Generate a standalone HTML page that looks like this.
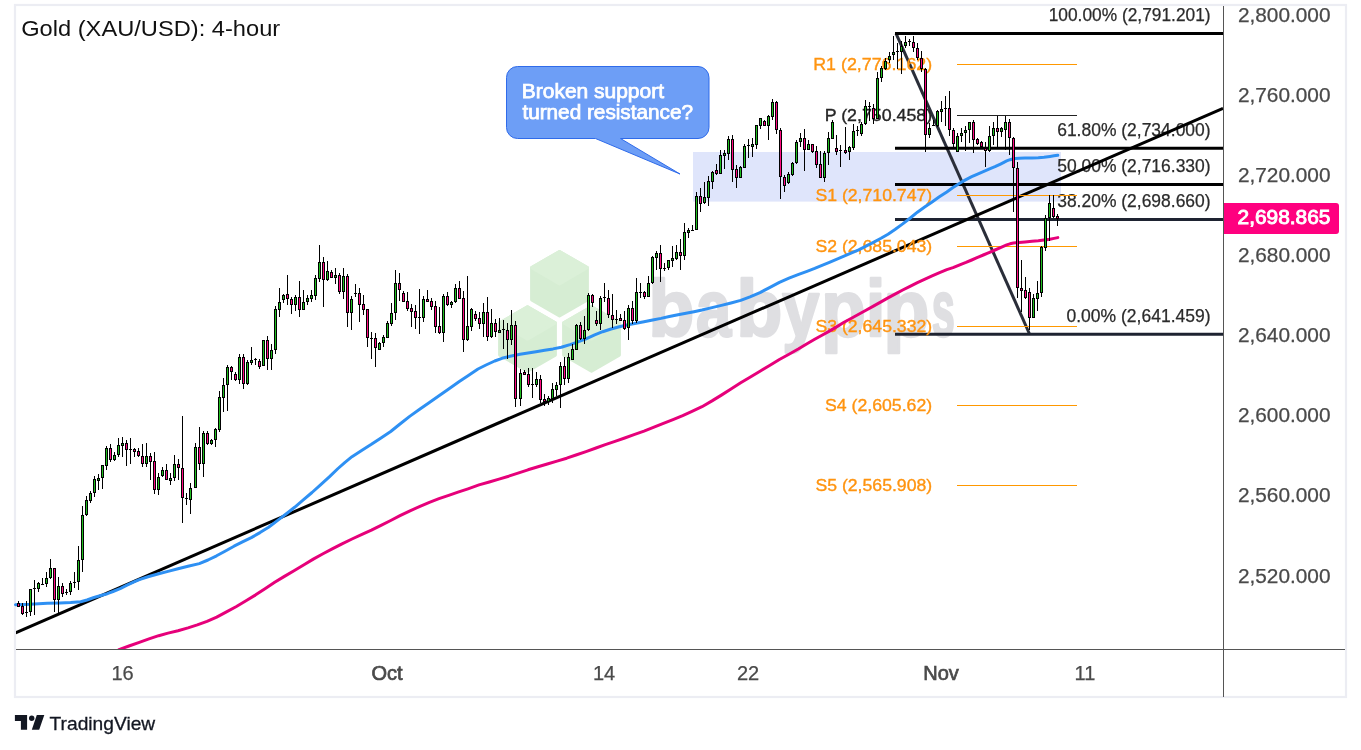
<!DOCTYPE html>
<html><head><meta charset="utf-8"><title>Gold (XAU/USD): 4-hour</title>
<style>html,body{margin:0;padding:0;background:#fff;}body{width:1361px;height:750px;overflow:hidden;font-family:"Liberation Sans",sans-serif;}</style>
</head><body>
<svg width="1361" height="750" viewBox="0 0 1361 750" style="display:block;will-change:transform" font-family="Liberation Sans, sans-serif">
<rect x="0" y="0" width="1361" height="750" fill="#ffffff"/>
<defs><clipPath id="plot"><rect x="16" y="6" width="1207" height="643"/></clipPath></defs>
<rect x="15" y="5" width="1331" height="692" fill="#ffffff" stroke="#ecedf3" stroke-width="2.2"/>
<g id="wm">
<polygon points="559.5,251.6 587.3,267.7 587.3,299.8 559.5,315.9 531.7,299.8 531.7,267.7" fill="#d6edd3" stroke="#d6edd3" stroke-width="3.2" stroke-linejoin="round"/><polygon points="559.5,251.6 587.3,267.7 559.5,283.8 531.7,267.7" fill="#dbf0d8" stroke="#dbf0d8" stroke-width="3.2" stroke-linejoin="round"/>
<polygon points="527.5,306.9 555.3,322.9 555.3,355.1 527.5,371.1 499.7,355.1 499.7,322.9" fill="#d6edd3" stroke="#d6edd3" stroke-width="3.2" stroke-linejoin="round"/><polygon points="527.5,306.9 555.3,322.9 527.5,339.0 499.7,322.9" fill="#dbf0d8" stroke="#dbf0d8" stroke-width="3.2" stroke-linejoin="round"/>
<polygon points="591.5,306.9 619.3,322.9 619.3,355.1 591.5,371.1 563.7,355.1 563.7,322.9" fill="#d6edd3" stroke="#d6edd3" stroke-width="3.2" stroke-linejoin="round"/><polygon points="591.5,306.9 619.3,322.9 591.5,339.0 563.7,322.9" fill="#dbf0d8" stroke="#dbf0d8" stroke-width="3.2" stroke-linejoin="round"/>
<text transform="translate(648.62,336.2) scale(0.9366,1)" font-size="80" font-weight="bold" fill="#dfdfe2" stroke="#dfdfe2" stroke-width="2.6" stroke-linejoin="round">b</text>
<text transform="translate(696.12,336.2) scale(0.7907,1)" font-size="80" font-weight="bold" fill="#dfdfe2" stroke="#dfdfe2" stroke-width="2.6" stroke-linejoin="round">a</text>
<text transform="translate(736.62,336.2) scale(0.9366,1)" font-size="80" font-weight="bold" fill="#dfdfe2" stroke="#dfdfe2" stroke-width="2.6" stroke-linejoin="round">b</text>
<text transform="translate(782.30,336.2) scale(0.8311,1)" font-size="80" font-weight="bold" fill="#dfdfe2" stroke="#dfdfe2" stroke-width="2.6" stroke-linejoin="round">y</text>
<text transform="translate(821.35,336.2) scale(0.9098,1)" font-size="80" font-weight="bold" fill="#dfdfe2" stroke="#dfdfe2" stroke-width="2.6" stroke-linejoin="round">p</text>
<text transform="translate(865.97,336.2) scale(0.8667,1)" font-size="80" font-weight="bold" fill="#dfdfe2" stroke="#dfdfe2" stroke-width="2.6" stroke-linejoin="round">i</text>
<text transform="translate(883.62,336.2) scale(0.9366,1)" font-size="80" font-weight="bold" fill="#dfdfe2" stroke="#dfdfe2" stroke-width="2.6" stroke-linejoin="round">p</text>
<text transform="translate(931.86,336.2) scale(0.5200,1)" font-size="80" font-weight="bold" fill="#dfdfe2" stroke="#dfdfe2" stroke-width="2.6" stroke-linejoin="round">s</text>
</g>
<rect x="693" y="152" width="368" height="49.6" fill="#dfe5fb"/>
<line x1="896" y1="33.4" x2="1029.3" y2="333.5" stroke="#2a2e39" stroke-width="3"/>
<line x1="895" y1="33.4" x2="1223" y2="33.4" stroke="#000" stroke-width="3"/>
<text x="1048.7" y="21.1" font-size="17.7" fill="#2b2b2b" stroke="#2b2b2b" stroke-width="0.25" textLength="161.9" lengthAdjust="spacingAndGlyphs">100.00% (2,791.201)</text>
<line x1="895" y1="148.2" x2="1223" y2="148.2" stroke="#000" stroke-width="3"/>
<text x="1057.2" y="135.9" font-size="17.7" fill="#2b2b2b" stroke="#2b2b2b" stroke-width="0.25" textLength="153.4" lengthAdjust="spacingAndGlyphs">61.80% (2,734.000)</text>
<line x1="895" y1="184.4" x2="1223" y2="184.4" stroke="#000" stroke-width="3"/>
<text x="1057.2" y="172.1" font-size="17.7" fill="#2b2b2b" stroke="#2b2b2b" stroke-width="0.25" textLength="153.4" lengthAdjust="spacingAndGlyphs">50.00% (2,716.330)</text>
<line x1="895" y1="219.4" x2="1223" y2="219.4" stroke="#1e2331" stroke-width="3"/>
<text x="1057.2" y="207.1" font-size="17.7" fill="#2b2b2b" stroke="#2b2b2b" stroke-width="0.25" textLength="153.4" lengthAdjust="spacingAndGlyphs">38.20% (2,698.660)</text>
<line x1="895" y1="334.2" x2="1223" y2="334.2" stroke="#1e2331" stroke-width="3"/>
<text x="1066.5" y="321.9" font-size="17.7" fill="#2b2b2b" stroke="#2b2b2b" stroke-width="0.25" textLength="144.1" lengthAdjust="spacingAndGlyphs">0.00% (2,641.459)</text>
<line x1="15.5" y1="632.8" x2="1223" y2="108.3" stroke="#000" stroke-width="3" clip-path="url(#plot)"/>
<line x1="957" y1="64.5" x2="1077" y2="64.5" stroke="#ff9800" stroke-width="1.2"/>
<text x="813.2" y="70.2" font-size="16.9" fill="#ff9410" textLength="119.0" lengthAdjust="spacingAndGlyphs" stroke="#ff9410" stroke-width="0.35">R1 (2,776.162)</text>
<line x1="957" y1="115.5" x2="1077" y2="115.5" stroke="#222" stroke-width="1.2"/>
<text x="824.7" y="121.1" font-size="16.9" fill="#262626" textLength="107.5" lengthAdjust="spacingAndGlyphs" stroke="#262626" stroke-width="0.35">P (2,750.458)</text>
<line x1="957" y1="195.5" x2="1077" y2="195.5" stroke="#ff9800" stroke-width="1.2"/>
<text x="815.4" y="201.1" font-size="16.9" fill="#ff9410" textLength="116.8" lengthAdjust="spacingAndGlyphs" stroke="#ff9410" stroke-width="0.35">S1 (2,710.747)</text>
<line x1="957" y1="246.5" x2="1077" y2="246.5" stroke="#ff9800" stroke-width="1.2"/>
<text x="815.4" y="252.1" font-size="16.9" fill="#ff9410" textLength="116.8" lengthAdjust="spacingAndGlyphs" stroke="#ff9410" stroke-width="0.35">S2 (2,685.043)</text>
<line x1="957" y1="326.5" x2="1077" y2="326.5" stroke="#ff9800" stroke-width="1.2"/>
<text x="815.4" y="332.1" font-size="16.9" fill="#ff9410" textLength="116.8" lengthAdjust="spacingAndGlyphs" stroke="#ff9410" stroke-width="0.35">S3 (2,645.332)</text>
<line x1="957" y1="405.5" x2="1077" y2="405.5" stroke="#ff9800" stroke-width="1.2"/>
<text x="825" y="411.1" font-size="16.9" fill="#ff9410" textLength="107.2" lengthAdjust="spacingAndGlyphs" stroke="#ff9410" stroke-width="0.35">S4 (2,605.62)</text>
<line x1="957" y1="485.5" x2="1077" y2="485.5" stroke="#ff9800" stroke-width="1.2"/>
<text x="815.4" y="491.1" font-size="16.9" fill="#ff9410" textLength="116.8" lengthAdjust="spacingAndGlyphs" stroke="#ff9410" stroke-width="0.35">S5 (2,565.908)</text>
<path d="M15.5,604.7 L30.0,604.3 L47.3,603.2 L60.0,603.0 L70.7,602.6 L80.7,601.7 L87.0,600.0 L94.0,597.5 L100.0,595.8 L107.3,593.7 L113.0,591.5 L120.7,588.3 L127.0,585.2 L134.0,581.9 L139.3,579.6 L148.0,576.8 L158.7,573.8 L168.0,571.4 L178.0,568.8 L188.0,566.3 L199.3,563.6 L208.0,560.0 L216.6,555.8 L225.0,551.2 L234.0,546.2 L242.5,541.9 L251.3,537.6 L260.0,532.6 L268.6,527.2 L279.0,519.4 L287.0,513.2 L294.6,507.3 L303.0,500.2 L312.0,492.5 L320.5,484.8 L329.3,476.9 L338.0,468.5 L345.0,462.3 L352.0,456.7 L362.0,450.2 L371.4,444.3 L381.0,437.9 L390.7,431.5 L400.0,424.0 L410.0,416.1 L420.0,409.0 L429.4,402.5 L439.0,395.7 L448.7,389.0 L459.3,381.5 L468.0,375.8 L478.0,369.0 L486.0,365.0 L494.7,361.0 L502.0,358.3 L511.3,356.0 L520.0,354.3 L528.0,353.0 L536.0,351.8 L544.7,350.3 L553.0,348.9 L561.3,347.2 L570.0,344.6 L578.0,341.8 L586.0,338.8 L594.7,334.9 L602.7,331.7 L611.0,329.0 L619.3,326.7 L628.0,324.8 L636.0,323.3 L644.0,321.8 L652.7,320.0 L661.0,318.4 L669.3,316.5 L678.0,314.8 L686.0,313.3 L694.0,311.7 L702.0,310.0 L712.0,307.6 L721.4,305.4 L731.0,303.0 L740.7,300.4 L750.0,296.8 L760.0,292.6 L770.0,287.4 L779.4,282.4 L789.0,278.2 L798.7,274.3 L807.0,271.3 L814.7,268.4 L822.0,265.4 L829.4,262.3 L837.0,259.2 L844.0,256.2 L851.0,253.1 L858.7,249.8 L866.0,246.2 L873.4,242.4 L881.0,238.3 L888.0,234.2 L895.0,229.5 L902.7,223.9 L910.0,218.2 L917.4,212.2 L925.0,206.8 L932.1,201.9 L939.0,197.0 L946.8,191.9 L953.0,187.6 L961.0,182.4 L966.0,179.6 L971.7,176.7 L977.0,174.3 L983.3,171.7 L989.0,169.2 L995.0,166.7 L1001.0,163.8 L1006.7,160.9 L1010.0,159.7 L1013.5,158.7 L1019.0,158.2 L1025.0,158.0 L1032.0,158.0 L1038.3,157.8 L1044.0,157.2 L1050.0,156.4 L1054.0,155.8 L1057.8,155.3" fill="none" stroke="#2e90f3" stroke-width="3" stroke-linejoin="round" stroke-linecap="round"/>
<path d="M119.0,649.6 L129.0,646.0 L139.3,642.3 L149.0,638.9 L158.7,635.7 L168.0,633.1 L178.0,630.7 L188.0,627.9 L197.3,624.9 L207.0,621.3 L216.7,617.1 L226.0,612.2 L236.0,606.7 L246.0,600.8 L255.3,595.1 L265.0,588.7 L274.7,582.3 L284.0,576.6 L294.0,570.7 L304.0,564.7 L313.3,559.1 L323.0,553.8 L332.7,548.7 L342.0,543.8 L352.0,539.0 L362.0,534.4 L371.4,530.1 L381.0,525.4 L390.7,520.5 L400.0,515.7 L410.0,510.8 L420.0,506.3 L429.4,502.3 L439.0,498.7 L448.7,495.3 L458.0,492.1 L468.0,488.8 L479.0,484.9 L489.3,482.0 L499.0,479.1 L508.7,476.2 L518.0,473.1 L528.0,469.8 L538.0,466.8 L547.3,464.0 L557.0,461.1 L566.7,458.2 L576.0,455.0 L586.0,451.6 L596.0,448.0 L605.3,444.6 L615.0,441.3 L624.7,438.0 L634.0,434.7 L644.0,431.1 L654.0,427.2 L663.4,423.4 L673.0,419.6 L682.7,415.6 L692.0,411.4 L702.0,406.7 L712.0,400.9 L721.4,395.1 L731.0,389.0 L740.7,382.8 L750.0,377.2 L760.0,371.2 L770.0,365.2 L779.4,359.5 L789.0,354.3 L798.7,348.8 L807.0,343.7 L814.7,339.3 L822.0,335.2 L829.4,331.1 L837.0,326.6 L844.0,322.3 L851.0,318.5 L858.7,314.3 L866.0,310.2 L873.4,306.1 L881.0,301.9 L888.0,297.9 L895.0,294.1 L902.7,290.0 L910.0,286.3 L917.4,282.6 L925.0,279.1 L932.1,275.9 L939.0,272.8 L946.8,269.6 L953.0,267.6 L961.0,264.3 L966.0,262.4 L971.7,260.0 L977.0,257.7 L983.3,255.0 L989.0,252.6 L995.0,250.0 L1001.0,247.3 L1006.7,244.9 L1010.0,243.8 L1013.5,243.0 L1019.0,242.4 L1025.0,241.9 L1032.0,241.3 L1038.3,240.7 L1044.0,240.0 L1050.0,239.2 L1054.0,238.4 L1057.8,237.6" fill="none" stroke="#e6007a" stroke-width="3" stroke-linejoin="round" stroke-linecap="round" clip-path="url(#plot)"/>
<g id="candles" shape-rendering="crispEdges">
<rect x="18" y="601" width="1" height="6" fill="#000"/>
<rect x="17" y="603" width="3" height="4" fill="#000"/>
<rect x="18" y="604" width="1" height="2" fill="#ff0a82"/>
<rect x="22" y="603" width="1" height="12" fill="#000"/>
<rect x="21" y="606" width="3" height="8" fill="#000"/>
<rect x="22" y="607" width="1" height="6" fill="#ff0a82"/>
<rect x="26" y="601" width="1" height="16" fill="#000"/>
<rect x="25" y="612" width="3" height="1" fill="#000"/>
<rect x="30" y="589" width="1" height="27" fill="#000"/>
<rect x="29" y="589" width="3" height="23" fill="#000"/>
<rect x="30" y="590" width="1" height="21" fill="#1fbe1f"/>
<rect x="34" y="580" width="1" height="35" fill="#000"/>
<rect x="33" y="588" width="3" height="1" fill="#000"/>
<rect x="38" y="582" width="1" height="10" fill="#000"/>
<rect x="37" y="583" width="3" height="6" fill="#000"/>
<rect x="38" y="584" width="1" height="4" fill="#1fbe1f"/>
<rect x="42" y="578" width="1" height="6" fill="#000"/>
<rect x="41" y="584" width="3" height="1" fill="#000"/>
<rect x="46" y="572" width="1" height="15" fill="#000"/>
<rect x="45" y="578" width="3" height="6" fill="#000"/>
<rect x="46" y="579" width="1" height="4" fill="#1fbe1f"/>
<rect x="50" y="559" width="1" height="20" fill="#000"/>
<rect x="49" y="568" width="3" height="10" fill="#000"/>
<rect x="50" y="569" width="1" height="8" fill="#1fbe1f"/>
<rect x="54" y="568" width="1" height="44" fill="#000"/>
<rect x="53" y="568" width="3" height="32" fill="#000"/>
<rect x="54" y="569" width="1" height="30" fill="#ff0a82"/>
<rect x="58" y="577" width="1" height="36" fill="#000"/>
<rect x="57" y="586" width="3" height="14" fill="#000"/>
<rect x="58" y="587" width="1" height="12" fill="#1fbe1f"/>
<rect x="62" y="583" width="1" height="14" fill="#000"/>
<rect x="61" y="586" width="3" height="8" fill="#000"/>
<rect x="62" y="587" width="1" height="6" fill="#ff0a82"/>
<rect x="66" y="589" width="1" height="6" fill="#000"/>
<rect x="65" y="592" width="3" height="1" fill="#000"/>
<rect x="70" y="581" width="1" height="14" fill="#000"/>
<rect x="69" y="583" width="3" height="9" fill="#000"/>
<rect x="70" y="584" width="1" height="7" fill="#1fbe1f"/>
<rect x="74" y="572" width="1" height="16" fill="#000"/>
<rect x="73" y="582" width="3" height="1" fill="#000"/>
<rect x="78" y="546" width="1" height="44" fill="#000"/>
<rect x="77" y="560" width="3" height="22" fill="#000"/>
<rect x="78" y="561" width="1" height="20" fill="#1fbe1f"/>
<rect x="82" y="506" width="1" height="66" fill="#000"/>
<rect x="81" y="515" width="3" height="45" fill="#000"/>
<rect x="82" y="516" width="1" height="43" fill="#1fbe1f"/>
<rect x="86" y="496" width="1" height="20" fill="#000"/>
<rect x="85" y="500" width="3" height="15" fill="#000"/>
<rect x="86" y="501" width="1" height="13" fill="#1fbe1f"/>
<rect x="90" y="491" width="1" height="12" fill="#000"/>
<rect x="89" y="493" width="3" height="8" fill="#000"/>
<rect x="90" y="494" width="1" height="6" fill="#1fbe1f"/>
<rect x="94" y="476" width="1" height="21" fill="#000"/>
<rect x="93" y="479" width="3" height="14" fill="#000"/>
<rect x="94" y="480" width="1" height="12" fill="#1fbe1f"/>
<rect x="98" y="474" width="1" height="16" fill="#000"/>
<rect x="97" y="478" width="3" height="3" fill="#000"/>
<rect x="98" y="479" width="1" height="1" fill="#1fbe1f"/>
<rect x="102" y="465" width="1" height="24" fill="#000"/>
<rect x="101" y="465" width="3" height="13" fill="#000"/>
<rect x="102" y="466" width="1" height="11" fill="#1fbe1f"/>
<rect x="106" y="446" width="1" height="24" fill="#000"/>
<rect x="105" y="448" width="3" height="18" fill="#000"/>
<rect x="106" y="449" width="1" height="16" fill="#1fbe1f"/>
<rect x="110" y="444" width="1" height="18" fill="#000"/>
<rect x="109" y="448" width="3" height="12" fill="#000"/>
<rect x="110" y="449" width="1" height="10" fill="#ff0a82"/>
<rect x="114" y="452" width="1" height="9" fill="#000"/>
<rect x="113" y="455" width="3" height="5" fill="#000"/>
<rect x="114" y="456" width="1" height="3" fill="#1fbe1f"/>
<rect x="118" y="438" width="1" height="19" fill="#000"/>
<rect x="117" y="445" width="3" height="10" fill="#000"/>
<rect x="118" y="446" width="1" height="8" fill="#1fbe1f"/>
<rect x="122" y="437" width="1" height="20" fill="#000"/>
<rect x="121" y="443" width="3" height="3" fill="#000"/>
<rect x="122" y="444" width="1" height="1" fill="#1fbe1f"/>
<rect x="126" y="440" width="1" height="26" fill="#000"/>
<rect x="125" y="443" width="3" height="7" fill="#000"/>
<rect x="126" y="444" width="1" height="5" fill="#ff0a82"/>
<rect x="130" y="438" width="1" height="26" fill="#000"/>
<rect x="129" y="449" width="3" height="1" fill="#000"/>
<rect x="134" y="448" width="1" height="9" fill="#000"/>
<rect x="133" y="449" width="3" height="3" fill="#000"/>
<rect x="134" y="450" width="1" height="1" fill="#ff0a82"/>
<rect x="138" y="448" width="1" height="9" fill="#000"/>
<rect x="137" y="451" width="3" height="5" fill="#000"/>
<rect x="138" y="452" width="1" height="3" fill="#ff0a82"/>
<rect x="142" y="444" width="1" height="23" fill="#000"/>
<rect x="141" y="456" width="3" height="8" fill="#000"/>
<rect x="142" y="457" width="1" height="6" fill="#ff0a82"/>
<rect x="146" y="443" width="1" height="24" fill="#000"/>
<rect x="145" y="456" width="3" height="8" fill="#000"/>
<rect x="146" y="457" width="1" height="6" fill="#1fbe1f"/>
<rect x="150" y="453" width="1" height="27" fill="#000"/>
<rect x="149" y="456" width="3" height="6" fill="#000"/>
<rect x="150" y="457" width="1" height="4" fill="#ff0a82"/>
<rect x="154" y="452" width="1" height="42" fill="#000"/>
<rect x="153" y="461" width="3" height="29" fill="#000"/>
<rect x="154" y="462" width="1" height="27" fill="#ff0a82"/>
<rect x="158" y="473" width="1" height="22" fill="#000"/>
<rect x="157" y="477" width="3" height="13" fill="#000"/>
<rect x="158" y="478" width="1" height="11" fill="#1fbe1f"/>
<rect x="162" y="467" width="1" height="10" fill="#000"/>
<rect x="161" y="470" width="3" height="6" fill="#000"/>
<rect x="162" y="471" width="1" height="4" fill="#1fbe1f"/>
<rect x="166" y="464" width="1" height="16" fill="#000"/>
<rect x="165" y="470" width="3" height="10" fill="#000"/>
<rect x="166" y="471" width="1" height="8" fill="#ff0a82"/>
<rect x="170" y="473" width="1" height="12" fill="#000"/>
<rect x="169" y="478" width="3" height="3" fill="#000"/>
<rect x="170" y="479" width="1" height="1" fill="#1fbe1f"/>
<rect x="174" y="455" width="1" height="26" fill="#000"/>
<rect x="173" y="464" width="3" height="14" fill="#000"/>
<rect x="174" y="465" width="1" height="12" fill="#1fbe1f"/>
<rect x="178" y="459" width="1" height="21" fill="#000"/>
<rect x="177" y="464" width="3" height="4" fill="#000"/>
<rect x="178" y="465" width="1" height="2" fill="#ff0a82"/>
<rect x="182" y="416" width="1" height="107" fill="#000"/>
<rect x="181" y="468" width="3" height="30" fill="#000"/>
<rect x="182" y="469" width="1" height="28" fill="#ff0a82"/>
<rect x="186" y="493" width="1" height="12" fill="#000"/>
<rect x="185" y="498" width="3" height="1" fill="#000"/>
<rect x="190" y="483" width="1" height="31" fill="#000"/>
<rect x="189" y="488" width="3" height="12" fill="#000"/>
<rect x="190" y="489" width="1" height="10" fill="#1fbe1f"/>
<rect x="195" y="443" width="1" height="45" fill="#000"/>
<rect x="194" y="447" width="3" height="41" fill="#000"/>
<rect x="195" y="448" width="1" height="39" fill="#1fbe1f"/>
<rect x="199" y="427" width="1" height="43" fill="#000"/>
<rect x="198" y="447" width="3" height="17" fill="#000"/>
<rect x="199" y="448" width="1" height="15" fill="#ff0a82"/>
<rect x="203" y="431" width="1" height="46" fill="#000"/>
<rect x="202" y="433" width="3" height="31" fill="#000"/>
<rect x="203" y="434" width="1" height="29" fill="#1fbe1f"/>
<rect x="207" y="431" width="1" height="14" fill="#000"/>
<rect x="206" y="433" width="3" height="11" fill="#000"/>
<rect x="207" y="434" width="1" height="9" fill="#ff0a82"/>
<rect x="211" y="439" width="1" height="6" fill="#000"/>
<rect x="210" y="440" width="3" height="4" fill="#000"/>
<rect x="211" y="441" width="1" height="2" fill="#1fbe1f"/>
<rect x="215" y="428" width="1" height="19" fill="#000"/>
<rect x="214" y="429" width="3" height="11" fill="#000"/>
<rect x="215" y="430" width="1" height="9" fill="#1fbe1f"/>
<rect x="219" y="391" width="1" height="41" fill="#000"/>
<rect x="218" y="397" width="3" height="33" fill="#000"/>
<rect x="219" y="398" width="1" height="31" fill="#1fbe1f"/>
<rect x="223" y="378" width="1" height="34" fill="#000"/>
<rect x="222" y="385" width="3" height="13" fill="#000"/>
<rect x="223" y="386" width="1" height="11" fill="#1fbe1f"/>
<rect x="227" y="365" width="1" height="46" fill="#000"/>
<rect x="226" y="367" width="3" height="18" fill="#000"/>
<rect x="227" y="368" width="1" height="16" fill="#1fbe1f"/>
<rect x="231" y="366" width="1" height="14" fill="#000"/>
<rect x="230" y="367" width="3" height="5" fill="#000"/>
<rect x="231" y="368" width="1" height="3" fill="#ff0a82"/>
<rect x="235" y="372" width="1" height="9" fill="#000"/>
<rect x="234" y="374" width="3" height="6" fill="#000"/>
<rect x="235" y="375" width="1" height="4" fill="#ff0a82"/>
<rect x="239" y="354" width="1" height="30" fill="#000"/>
<rect x="238" y="357" width="3" height="23" fill="#000"/>
<rect x="239" y="358" width="1" height="21" fill="#1fbe1f"/>
<rect x="243" y="354" width="1" height="35" fill="#000"/>
<rect x="242" y="357" width="3" height="27" fill="#000"/>
<rect x="243" y="358" width="1" height="25" fill="#ff0a82"/>
<rect x="247" y="360" width="1" height="25" fill="#000"/>
<rect x="246" y="362" width="3" height="22" fill="#000"/>
<rect x="247" y="363" width="1" height="20" fill="#1fbe1f"/>
<rect x="251" y="347" width="1" height="18" fill="#000"/>
<rect x="250" y="360" width="3" height="3" fill="#000"/>
<rect x="251" y="361" width="1" height="1" fill="#1fbe1f"/>
<rect x="255" y="358" width="1" height="7" fill="#000"/>
<rect x="254" y="359" width="3" height="1" fill="#000"/>
<rect x="259" y="359" width="1" height="10" fill="#000"/>
<rect x="258" y="361" width="3" height="6" fill="#000"/>
<rect x="259" y="362" width="1" height="4" fill="#ff0a82"/>
<rect x="263" y="340" width="1" height="26" fill="#000"/>
<rect x="262" y="340" width="3" height="26" fill="#000"/>
<rect x="263" y="341" width="1" height="24" fill="#1fbe1f"/>
<rect x="267" y="336" width="1" height="34" fill="#000"/>
<rect x="266" y="340" width="3" height="19" fill="#000"/>
<rect x="267" y="341" width="1" height="17" fill="#ff0a82"/>
<rect x="271" y="344" width="1" height="26" fill="#000"/>
<rect x="270" y="350" width="3" height="9" fill="#000"/>
<rect x="271" y="351" width="1" height="7" fill="#1fbe1f"/>
<rect x="275" y="306" width="1" height="48" fill="#000"/>
<rect x="274" y="309" width="3" height="41" fill="#000"/>
<rect x="275" y="310" width="1" height="39" fill="#1fbe1f"/>
<rect x="279" y="288" width="1" height="29" fill="#000"/>
<rect x="278" y="302" width="3" height="8" fill="#000"/>
<rect x="279" y="303" width="1" height="6" fill="#1fbe1f"/>
<rect x="283" y="294" width="1" height="9" fill="#000"/>
<rect x="282" y="295" width="3" height="5" fill="#000"/>
<rect x="283" y="296" width="1" height="3" fill="#1fbe1f"/>
<rect x="287" y="275" width="1" height="30" fill="#000"/>
<rect x="286" y="294" width="3" height="5" fill="#000"/>
<rect x="287" y="295" width="1" height="3" fill="#ff0a82"/>
<rect x="291" y="297" width="1" height="17" fill="#000"/>
<rect x="290" y="299" width="3" height="6" fill="#000"/>
<rect x="291" y="300" width="1" height="4" fill="#ff0a82"/>
<rect x="295" y="295" width="1" height="16" fill="#000"/>
<rect x="294" y="297" width="3" height="8" fill="#000"/>
<rect x="295" y="298" width="1" height="6" fill="#1fbe1f"/>
<rect x="299" y="281" width="1" height="36" fill="#000"/>
<rect x="298" y="297" width="3" height="13" fill="#000"/>
<rect x="299" y="298" width="1" height="11" fill="#ff0a82"/>
<rect x="303" y="290" width="1" height="20" fill="#000"/>
<rect x="302" y="302" width="3" height="8" fill="#000"/>
<rect x="303" y="303" width="1" height="6" fill="#1fbe1f"/>
<rect x="307" y="295" width="1" height="10" fill="#000"/>
<rect x="306" y="298" width="3" height="4" fill="#000"/>
<rect x="307" y="299" width="1" height="2" fill="#1fbe1f"/>
<rect x="311" y="290" width="1" height="12" fill="#000"/>
<rect x="310" y="295" width="3" height="4" fill="#000"/>
<rect x="311" y="296" width="1" height="2" fill="#1fbe1f"/>
<rect x="315" y="275" width="1" height="25" fill="#000"/>
<rect x="314" y="278" width="3" height="18" fill="#000"/>
<rect x="315" y="279" width="1" height="16" fill="#1fbe1f"/>
<rect x="319" y="245" width="1" height="37" fill="#000"/>
<rect x="318" y="262" width="3" height="17" fill="#000"/>
<rect x="319" y="263" width="1" height="15" fill="#1fbe1f"/>
<rect x="323" y="257" width="1" height="50" fill="#000"/>
<rect x="322" y="262" width="3" height="18" fill="#000"/>
<rect x="323" y="263" width="1" height="16" fill="#ff0a82"/>
<rect x="327" y="261" width="1" height="20" fill="#000"/>
<rect x="326" y="271" width="3" height="9" fill="#000"/>
<rect x="327" y="272" width="1" height="7" fill="#1fbe1f"/>
<rect x="331" y="270" width="1" height="8" fill="#000"/>
<rect x="330" y="272" width="3" height="6" fill="#000"/>
<rect x="331" y="273" width="1" height="4" fill="#ff0a82"/>
<rect x="335" y="268" width="1" height="16" fill="#000"/>
<rect x="334" y="275" width="3" height="3" fill="#000"/>
<rect x="335" y="276" width="1" height="1" fill="#1fbe1f"/>
<rect x="339" y="273" width="1" height="21" fill="#000"/>
<rect x="338" y="275" width="3" height="17" fill="#000"/>
<rect x="339" y="276" width="1" height="15" fill="#ff0a82"/>
<rect x="343" y="268" width="1" height="31" fill="#000"/>
<rect x="342" y="276" width="3" height="16" fill="#000"/>
<rect x="343" y="277" width="1" height="14" fill="#1fbe1f"/>
<rect x="347" y="274" width="1" height="53" fill="#000"/>
<rect x="346" y="276" width="3" height="37" fill="#000"/>
<rect x="347" y="277" width="1" height="35" fill="#ff0a82"/>
<rect x="351" y="296" width="1" height="34" fill="#000"/>
<rect x="350" y="299" width="3" height="14" fill="#000"/>
<rect x="351" y="300" width="1" height="12" fill="#1fbe1f"/>
<rect x="355" y="284" width="1" height="13" fill="#000"/>
<rect x="354" y="293" width="3" height="1" fill="#000"/>
<rect x="359" y="288" width="1" height="34" fill="#000"/>
<rect x="358" y="293" width="3" height="12" fill="#000"/>
<rect x="359" y="294" width="1" height="10" fill="#ff0a82"/>
<rect x="363" y="295" width="1" height="20" fill="#000"/>
<rect x="362" y="304" width="3" height="6" fill="#000"/>
<rect x="363" y="305" width="1" height="4" fill="#ff0a82"/>
<rect x="367" y="309" width="1" height="38" fill="#000"/>
<rect x="366" y="309" width="3" height="29" fill="#000"/>
<rect x="367" y="310" width="1" height="27" fill="#ff0a82"/>
<rect x="371" y="332" width="1" height="27" fill="#000"/>
<rect x="370" y="338" width="3" height="1" fill="#000"/>
<rect x="375" y="333" width="1" height="34" fill="#000"/>
<rect x="374" y="338" width="3" height="10" fill="#000"/>
<rect x="375" y="339" width="1" height="8" fill="#ff0a82"/>
<rect x="379" y="342" width="1" height="8" fill="#000"/>
<rect x="378" y="343" width="3" height="7" fill="#000"/>
<rect x="379" y="344" width="1" height="5" fill="#1fbe1f"/>
<rect x="383" y="335" width="1" height="12" fill="#000"/>
<rect x="382" y="337" width="3" height="6" fill="#000"/>
<rect x="383" y="338" width="1" height="4" fill="#1fbe1f"/>
<rect x="387" y="321" width="1" height="17" fill="#000"/>
<rect x="386" y="323" width="3" height="15" fill="#000"/>
<rect x="387" y="324" width="1" height="13" fill="#1fbe1f"/>
<rect x="391" y="303" width="1" height="23" fill="#000"/>
<rect x="390" y="313" width="3" height="11" fill="#000"/>
<rect x="391" y="314" width="1" height="9" fill="#1fbe1f"/>
<rect x="395" y="270" width="1" height="50" fill="#000"/>
<rect x="394" y="283" width="3" height="30" fill="#000"/>
<rect x="395" y="284" width="1" height="28" fill="#1fbe1f"/>
<rect x="399" y="273" width="1" height="28" fill="#000"/>
<rect x="398" y="283" width="3" height="7" fill="#000"/>
<rect x="399" y="284" width="1" height="5" fill="#ff0a82"/>
<rect x="403" y="291" width="1" height="11" fill="#000"/>
<rect x="402" y="293" width="3" height="9" fill="#000"/>
<rect x="403" y="294" width="1" height="7" fill="#ff0a82"/>
<rect x="407" y="292" width="1" height="19" fill="#000"/>
<rect x="406" y="301" width="3" height="8" fill="#000"/>
<rect x="407" y="302" width="1" height="6" fill="#ff0a82"/>
<rect x="411" y="304" width="1" height="23" fill="#000"/>
<rect x="410" y="308" width="3" height="4" fill="#000"/>
<rect x="411" y="309" width="1" height="2" fill="#ff0a82"/>
<rect x="415" y="305" width="1" height="24" fill="#000"/>
<rect x="414" y="311" width="3" height="7" fill="#000"/>
<rect x="415" y="312" width="1" height="5" fill="#ff0a82"/>
<rect x="419" y="289" width="1" height="45" fill="#000"/>
<rect x="418" y="317" width="3" height="1" fill="#000"/>
<rect x="423" y="296" width="1" height="26" fill="#000"/>
<rect x="422" y="299" width="3" height="19" fill="#000"/>
<rect x="423" y="300" width="1" height="17" fill="#1fbe1f"/>
<rect x="427" y="290" width="1" height="12" fill="#000"/>
<rect x="426" y="299" width="3" height="3" fill="#000"/>
<rect x="427" y="300" width="1" height="1" fill="#ff0a82"/>
<rect x="431" y="298" width="1" height="12" fill="#000"/>
<rect x="430" y="301" width="3" height="6" fill="#000"/>
<rect x="431" y="302" width="1" height="4" fill="#ff0a82"/>
<rect x="435" y="301" width="1" height="32" fill="#000"/>
<rect x="434" y="306" width="3" height="21" fill="#000"/>
<rect x="435" y="307" width="1" height="19" fill="#ff0a82"/>
<rect x="439" y="307" width="1" height="27" fill="#000"/>
<rect x="438" y="326" width="3" height="7" fill="#000"/>
<rect x="439" y="327" width="1" height="5" fill="#ff0a82"/>
<rect x="443" y="294" width="1" height="48" fill="#000"/>
<rect x="442" y="296" width="3" height="37" fill="#000"/>
<rect x="443" y="297" width="1" height="35" fill="#1fbe1f"/>
<rect x="447" y="292" width="1" height="14" fill="#000"/>
<rect x="446" y="296" width="3" height="9" fill="#000"/>
<rect x="447" y="297" width="1" height="7" fill="#ff0a82"/>
<rect x="451" y="301" width="1" height="7" fill="#000"/>
<rect x="450" y="302" width="3" height="3" fill="#000"/>
<rect x="451" y="303" width="1" height="1" fill="#1fbe1f"/>
<rect x="455" y="284" width="1" height="19" fill="#000"/>
<rect x="454" y="288" width="3" height="14" fill="#000"/>
<rect x="455" y="289" width="1" height="12" fill="#1fbe1f"/>
<rect x="459" y="281" width="1" height="18" fill="#000"/>
<rect x="458" y="288" width="3" height="11" fill="#000"/>
<rect x="459" y="289" width="1" height="9" fill="#ff0a82"/>
<rect x="463" y="291" width="1" height="61" fill="#000"/>
<rect x="462" y="298" width="3" height="42" fill="#000"/>
<rect x="463" y="299" width="1" height="40" fill="#ff0a82"/>
<rect x="467" y="276" width="1" height="65" fill="#000"/>
<rect x="466" y="326" width="3" height="14" fill="#000"/>
<rect x="467" y="327" width="1" height="12" fill="#1fbe1f"/>
<rect x="471" y="308" width="1" height="23" fill="#000"/>
<rect x="470" y="309" width="3" height="18" fill="#000"/>
<rect x="471" y="310" width="1" height="16" fill="#1fbe1f"/>
<rect x="475" y="311" width="1" height="10" fill="#000"/>
<rect x="474" y="314" width="3" height="5" fill="#000"/>
<rect x="475" y="315" width="1" height="3" fill="#ff0a82"/>
<rect x="479" y="312" width="1" height="17" fill="#000"/>
<rect x="478" y="318" width="3" height="6" fill="#000"/>
<rect x="479" y="319" width="1" height="4" fill="#ff0a82"/>
<rect x="483" y="303" width="1" height="34" fill="#000"/>
<rect x="482" y="312" width="3" height="12" fill="#000"/>
<rect x="483" y="313" width="1" height="10" fill="#1fbe1f"/>
<rect x="487" y="297" width="1" height="44" fill="#000"/>
<rect x="486" y="312" width="3" height="25" fill="#000"/>
<rect x="487" y="313" width="1" height="23" fill="#ff0a82"/>
<rect x="491" y="309" width="1" height="29" fill="#000"/>
<rect x="490" y="323" width="3" height="14" fill="#000"/>
<rect x="491" y="324" width="1" height="12" fill="#1fbe1f"/>
<rect x="495" y="319" width="1" height="18" fill="#000"/>
<rect x="494" y="323" width="3" height="9" fill="#000"/>
<rect x="495" y="324" width="1" height="7" fill="#ff0a82"/>
<rect x="499" y="318" width="1" height="15" fill="#000"/>
<rect x="498" y="330" width="3" height="3" fill="#000"/>
<rect x="499" y="331" width="1" height="1" fill="#1fbe1f"/>
<rect x="503" y="320" width="1" height="29" fill="#000"/>
<rect x="502" y="329" width="3" height="1" fill="#000"/>
<rect x="507" y="323" width="1" height="36" fill="#000"/>
<rect x="506" y="330" width="3" height="10" fill="#000"/>
<rect x="507" y="331" width="1" height="8" fill="#ff0a82"/>
<rect x="511" y="310" width="1" height="35" fill="#000"/>
<rect x="510" y="325" width="3" height="15" fill="#000"/>
<rect x="511" y="326" width="1" height="13" fill="#1fbe1f"/>
<rect x="515" y="321" width="1" height="86" fill="#000"/>
<rect x="514" y="325" width="3" height="74" fill="#000"/>
<rect x="515" y="326" width="1" height="72" fill="#ff0a82"/>
<rect x="520" y="369" width="1" height="37" fill="#000"/>
<rect x="519" y="373" width="3" height="26" fill="#000"/>
<rect x="520" y="374" width="1" height="24" fill="#1fbe1f"/>
<rect x="524" y="370" width="1" height="5" fill="#000"/>
<rect x="523" y="372" width="3" height="3" fill="#000"/>
<rect x="524" y="373" width="1" height="1" fill="#ff0a82"/>
<rect x="528" y="368" width="1" height="19" fill="#000"/>
<rect x="527" y="374" width="3" height="11" fill="#000"/>
<rect x="528" y="375" width="1" height="9" fill="#ff0a82"/>
<rect x="532" y="368" width="1" height="30" fill="#000"/>
<rect x="531" y="384" width="3" height="1" fill="#000"/>
<rect x="536" y="372" width="1" height="15" fill="#000"/>
<rect x="535" y="379" width="3" height="6" fill="#000"/>
<rect x="536" y="380" width="1" height="4" fill="#1fbe1f"/>
<rect x="540" y="375" width="1" height="28" fill="#000"/>
<rect x="539" y="379" width="3" height="21" fill="#000"/>
<rect x="540" y="380" width="1" height="19" fill="#ff0a82"/>
<rect x="544" y="394" width="1" height="12" fill="#000"/>
<rect x="543" y="399" width="3" height="3" fill="#000"/>
<rect x="544" y="400" width="1" height="1" fill="#ff0a82"/>
<rect x="548" y="396" width="1" height="9" fill="#000"/>
<rect x="547" y="398" width="3" height="4" fill="#000"/>
<rect x="548" y="399" width="1" height="2" fill="#1fbe1f"/>
<rect x="552" y="383" width="1" height="20" fill="#000"/>
<rect x="551" y="389" width="3" height="10" fill="#000"/>
<rect x="552" y="390" width="1" height="8" fill="#1fbe1f"/>
<rect x="556" y="382" width="1" height="14" fill="#000"/>
<rect x="555" y="385" width="3" height="5" fill="#000"/>
<rect x="556" y="386" width="1" height="3" fill="#1fbe1f"/>
<rect x="560" y="362" width="1" height="46" fill="#000"/>
<rect x="559" y="366" width="3" height="19" fill="#000"/>
<rect x="560" y="367" width="1" height="17" fill="#1fbe1f"/>
<rect x="564" y="357" width="1" height="28" fill="#000"/>
<rect x="563" y="366" width="3" height="13" fill="#000"/>
<rect x="564" y="367" width="1" height="11" fill="#ff0a82"/>
<rect x="568" y="353" width="1" height="30" fill="#000"/>
<rect x="567" y="357" width="3" height="22" fill="#000"/>
<rect x="568" y="358" width="1" height="20" fill="#1fbe1f"/>
<rect x="572" y="344" width="1" height="16" fill="#000"/>
<rect x="571" y="349" width="3" height="11" fill="#000"/>
<rect x="572" y="350" width="1" height="9" fill="#1fbe1f"/>
<rect x="576" y="324" width="1" height="26" fill="#000"/>
<rect x="575" y="325" width="3" height="25" fill="#000"/>
<rect x="576" y="326" width="1" height="23" fill="#1fbe1f"/>
<rect x="580" y="322" width="1" height="18" fill="#000"/>
<rect x="579" y="325" width="3" height="14" fill="#000"/>
<rect x="580" y="326" width="1" height="12" fill="#ff0a82"/>
<rect x="584" y="316" width="1" height="28" fill="#000"/>
<rect x="583" y="330" width="3" height="9" fill="#000"/>
<rect x="584" y="331" width="1" height="7" fill="#1fbe1f"/>
<rect x="588" y="293" width="1" height="38" fill="#000"/>
<rect x="587" y="295" width="3" height="35" fill="#000"/>
<rect x="588" y="296" width="1" height="33" fill="#1fbe1f"/>
<rect x="592" y="294" width="1" height="13" fill="#000"/>
<rect x="591" y="295" width="3" height="8" fill="#000"/>
<rect x="592" y="296" width="1" height="6" fill="#ff0a82"/>
<rect x="596" y="311" width="1" height="15" fill="#000"/>
<rect x="595" y="320" width="3" height="4" fill="#000"/>
<rect x="596" y="321" width="1" height="2" fill="#ff0a82"/>
<rect x="600" y="296" width="1" height="34" fill="#000"/>
<rect x="599" y="298" width="3" height="26" fill="#000"/>
<rect x="600" y="299" width="1" height="24" fill="#1fbe1f"/>
<rect x="604" y="283" width="1" height="19" fill="#000"/>
<rect x="603" y="297" width="3" height="1" fill="#000"/>
<rect x="608" y="290" width="1" height="28" fill="#000"/>
<rect x="607" y="298" width="3" height="17" fill="#000"/>
<rect x="608" y="299" width="1" height="15" fill="#ff0a82"/>
<rect x="612" y="294" width="1" height="34" fill="#000"/>
<rect x="611" y="315" width="3" height="5" fill="#000"/>
<rect x="612" y="316" width="1" height="3" fill="#ff0a82"/>
<rect x="616" y="310" width="1" height="14" fill="#000"/>
<rect x="615" y="319" width="3" height="1" fill="#000"/>
<rect x="620" y="314" width="1" height="7" fill="#000"/>
<rect x="619" y="318" width="3" height="3" fill="#000"/>
<rect x="620" y="319" width="1" height="1" fill="#ff0a82"/>
<rect x="624" y="311" width="1" height="19" fill="#000"/>
<rect x="623" y="320" width="3" height="9" fill="#000"/>
<rect x="624" y="321" width="1" height="7" fill="#ff0a82"/>
<rect x="628" y="305" width="1" height="35" fill="#000"/>
<rect x="627" y="308" width="3" height="20" fill="#000"/>
<rect x="628" y="309" width="1" height="18" fill="#1fbe1f"/>
<rect x="632" y="301" width="1" height="23" fill="#000"/>
<rect x="631" y="308" width="3" height="13" fill="#000"/>
<rect x="632" y="309" width="1" height="11" fill="#ff0a82"/>
<rect x="636" y="278" width="1" height="45" fill="#000"/>
<rect x="635" y="292" width="3" height="29" fill="#000"/>
<rect x="636" y="293" width="1" height="27" fill="#1fbe1f"/>
<rect x="640" y="283" width="1" height="15" fill="#000"/>
<rect x="639" y="292" width="3" height="1" fill="#000"/>
<rect x="644" y="291" width="1" height="8" fill="#000"/>
<rect x="643" y="292" width="3" height="5" fill="#000"/>
<rect x="644" y="293" width="1" height="3" fill="#ff0a82"/>
<rect x="648" y="276" width="1" height="21" fill="#000"/>
<rect x="647" y="283" width="3" height="14" fill="#000"/>
<rect x="648" y="284" width="1" height="12" fill="#1fbe1f"/>
<rect x="652" y="256" width="1" height="28" fill="#000"/>
<rect x="651" y="257" width="3" height="26" fill="#000"/>
<rect x="652" y="258" width="1" height="24" fill="#1fbe1f"/>
<rect x="656" y="251" width="1" height="19" fill="#000"/>
<rect x="655" y="253" width="3" height="5" fill="#000"/>
<rect x="656" y="254" width="1" height="3" fill="#1fbe1f"/>
<rect x="660" y="245" width="1" height="37" fill="#000"/>
<rect x="659" y="253" width="3" height="16" fill="#000"/>
<rect x="660" y="254" width="1" height="14" fill="#ff0a82"/>
<rect x="664" y="263" width="1" height="8" fill="#000"/>
<rect x="663" y="268" width="3" height="1" fill="#000"/>
<rect x="668" y="260" width="1" height="10" fill="#000"/>
<rect x="667" y="260" width="3" height="8" fill="#000"/>
<rect x="668" y="261" width="1" height="6" fill="#1fbe1f"/>
<rect x="672" y="246" width="1" height="21" fill="#000"/>
<rect x="671" y="258" width="3" height="3" fill="#000"/>
<rect x="672" y="259" width="1" height="1" fill="#1fbe1f"/>
<rect x="676" y="245" width="1" height="15" fill="#000"/>
<rect x="675" y="252" width="3" height="7" fill="#000"/>
<rect x="676" y="253" width="1" height="5" fill="#1fbe1f"/>
<rect x="680" y="239" width="1" height="31" fill="#000"/>
<rect x="679" y="252" width="3" height="4" fill="#000"/>
<rect x="680" y="253" width="1" height="2" fill="#ff0a82"/>
<rect x="684" y="223" width="1" height="37" fill="#000"/>
<rect x="683" y="232" width="3" height="24" fill="#000"/>
<rect x="684" y="233" width="1" height="22" fill="#1fbe1f"/>
<rect x="688" y="228" width="1" height="10" fill="#000"/>
<rect x="687" y="230" width="3" height="3" fill="#000"/>
<rect x="688" y="231" width="1" height="1" fill="#1fbe1f"/>
<rect x="692" y="225" width="1" height="5" fill="#000"/>
<rect x="691" y="230" width="3" height="1" fill="#000"/>
<rect x="696" y="192" width="1" height="38" fill="#000"/>
<rect x="695" y="196" width="3" height="34" fill="#000"/>
<rect x="696" y="197" width="1" height="32" fill="#1fbe1f"/>
<rect x="700" y="188" width="1" height="24" fill="#000"/>
<rect x="699" y="196" width="3" height="8" fill="#000"/>
<rect x="700" y="197" width="1" height="6" fill="#ff0a82"/>
<rect x="704" y="182" width="1" height="22" fill="#000"/>
<rect x="703" y="197" width="3" height="6" fill="#000"/>
<rect x="704" y="198" width="1" height="4" fill="#1fbe1f"/>
<rect x="708" y="176" width="1" height="30" fill="#000"/>
<rect x="707" y="181" width="3" height="17" fill="#000"/>
<rect x="708" y="182" width="1" height="15" fill="#1fbe1f"/>
<rect x="712" y="171" width="1" height="18" fill="#000"/>
<rect x="711" y="172" width="3" height="10" fill="#000"/>
<rect x="712" y="173" width="1" height="8" fill="#1fbe1f"/>
<rect x="716" y="164" width="1" height="11" fill="#000"/>
<rect x="715" y="170" width="3" height="4" fill="#000"/>
<rect x="716" y="171" width="1" height="2" fill="#ff0a82"/>
<rect x="720" y="150" width="1" height="24" fill="#000"/>
<rect x="719" y="155" width="3" height="19" fill="#000"/>
<rect x="720" y="156" width="1" height="17" fill="#1fbe1f"/>
<rect x="724" y="150" width="1" height="19" fill="#000"/>
<rect x="723" y="153" width="3" height="3" fill="#000"/>
<rect x="724" y="154" width="1" height="1" fill="#1fbe1f"/>
<rect x="728" y="136" width="1" height="24" fill="#000"/>
<rect x="727" y="139" width="3" height="15" fill="#000"/>
<rect x="728" y="140" width="1" height="13" fill="#1fbe1f"/>
<rect x="732" y="135" width="1" height="47" fill="#000"/>
<rect x="731" y="139" width="3" height="31" fill="#000"/>
<rect x="732" y="140" width="1" height="29" fill="#ff0a82"/>
<rect x="736" y="165" width="1" height="23" fill="#000"/>
<rect x="735" y="169" width="3" height="9" fill="#000"/>
<rect x="736" y="170" width="1" height="7" fill="#ff0a82"/>
<rect x="740" y="166" width="1" height="12" fill="#000"/>
<rect x="739" y="167" width="3" height="11" fill="#000"/>
<rect x="740" y="168" width="1" height="9" fill="#1fbe1f"/>
<rect x="744" y="144" width="1" height="24" fill="#000"/>
<rect x="743" y="146" width="3" height="22" fill="#000"/>
<rect x="744" y="147" width="1" height="20" fill="#1fbe1f"/>
<rect x="748" y="139" width="1" height="19" fill="#000"/>
<rect x="747" y="145" width="3" height="1" fill="#000"/>
<rect x="752" y="138" width="1" height="19" fill="#000"/>
<rect x="751" y="144" width="3" height="3" fill="#000"/>
<rect x="752" y="145" width="1" height="1" fill="#1fbe1f"/>
<rect x="756" y="125" width="1" height="24" fill="#000"/>
<rect x="755" y="125" width="3" height="20" fill="#000"/>
<rect x="756" y="126" width="1" height="18" fill="#1fbe1f"/>
<rect x="760" y="118" width="1" height="11" fill="#000"/>
<rect x="759" y="118" width="3" height="8" fill="#000"/>
<rect x="760" y="119" width="1" height="6" fill="#1fbe1f"/>
<rect x="764" y="120" width="1" height="6" fill="#000"/>
<rect x="763" y="121" width="3" height="5" fill="#000"/>
<rect x="764" y="122" width="1" height="3" fill="#ff0a82"/>
<rect x="768" y="115" width="1" height="25" fill="#000"/>
<rect x="767" y="116" width="3" height="10" fill="#000"/>
<rect x="768" y="117" width="1" height="8" fill="#1fbe1f"/>
<rect x="772" y="99" width="1" height="21" fill="#000"/>
<rect x="771" y="102" width="3" height="15" fill="#000"/>
<rect x="772" y="103" width="1" height="13" fill="#1fbe1f"/>
<rect x="776" y="101" width="1" height="33" fill="#000"/>
<rect x="775" y="102" width="3" height="28" fill="#000"/>
<rect x="776" y="103" width="1" height="26" fill="#ff0a82"/>
<rect x="780" y="128" width="1" height="71" fill="#000"/>
<rect x="779" y="130" width="3" height="47" fill="#000"/>
<rect x="780" y="131" width="1" height="45" fill="#ff0a82"/>
<rect x="784" y="175" width="1" height="17" fill="#000"/>
<rect x="783" y="177" width="3" height="9" fill="#000"/>
<rect x="784" y="178" width="1" height="7" fill="#ff0a82"/>
<rect x="788" y="172" width="1" height="12" fill="#000"/>
<rect x="787" y="174" width="3" height="9" fill="#000"/>
<rect x="788" y="175" width="1" height="7" fill="#1fbe1f"/>
<rect x="792" y="162" width="1" height="14" fill="#000"/>
<rect x="791" y="163" width="3" height="12" fill="#000"/>
<rect x="792" y="164" width="1" height="10" fill="#1fbe1f"/>
<rect x="796" y="140" width="1" height="24" fill="#000"/>
<rect x="795" y="142" width="3" height="21" fill="#000"/>
<rect x="796" y="143" width="1" height="19" fill="#1fbe1f"/>
<rect x="800" y="133" width="1" height="14" fill="#000"/>
<rect x="799" y="138" width="3" height="4" fill="#000"/>
<rect x="800" y="139" width="1" height="2" fill="#1fbe1f"/>
<rect x="804" y="129" width="1" height="42" fill="#000"/>
<rect x="803" y="138" width="3" height="12" fill="#000"/>
<rect x="804" y="139" width="1" height="10" fill="#ff0a82"/>
<rect x="808" y="140" width="1" height="10" fill="#000"/>
<rect x="807" y="144" width="3" height="6" fill="#000"/>
<rect x="808" y="145" width="1" height="4" fill="#1fbe1f"/>
<rect x="812" y="144" width="1" height="9" fill="#000"/>
<rect x="811" y="144" width="3" height="8" fill="#000"/>
<rect x="812" y="145" width="1" height="6" fill="#ff0a82"/>
<rect x="816" y="146" width="1" height="22" fill="#000"/>
<rect x="815" y="151" width="3" height="14" fill="#000"/>
<rect x="816" y="152" width="1" height="12" fill="#ff0a82"/>
<rect x="820" y="151" width="1" height="27" fill="#000"/>
<rect x="819" y="164" width="3" height="14" fill="#000"/>
<rect x="820" y="165" width="1" height="12" fill="#ff0a82"/>
<rect x="824" y="151" width="1" height="31" fill="#000"/>
<rect x="823" y="153" width="3" height="25" fill="#000"/>
<rect x="824" y="154" width="1" height="23" fill="#1fbe1f"/>
<rect x="828" y="132" width="1" height="33" fill="#000"/>
<rect x="827" y="138" width="3" height="15" fill="#000"/>
<rect x="828" y="139" width="1" height="13" fill="#1fbe1f"/>
<rect x="832" y="120" width="1" height="19" fill="#000"/>
<rect x="831" y="122" width="3" height="17" fill="#000"/>
<rect x="832" y="123" width="1" height="15" fill="#1fbe1f"/>
<rect x="836" y="135" width="1" height="20" fill="#000"/>
<rect x="835" y="148" width="3" height="4" fill="#000"/>
<rect x="836" y="149" width="1" height="2" fill="#ff0a82"/>
<rect x="840" y="145" width="1" height="22" fill="#000"/>
<rect x="839" y="150" width="3" height="1" fill="#000"/>
<rect x="845" y="127" width="1" height="27" fill="#000"/>
<rect x="844" y="150" width="3" height="3" fill="#000"/>
<rect x="845" y="151" width="1" height="1" fill="#ff0a82"/>
<rect x="849" y="146" width="1" height="14" fill="#000"/>
<rect x="848" y="147" width="3" height="5" fill="#000"/>
<rect x="849" y="148" width="1" height="3" fill="#1fbe1f"/>
<rect x="853" y="124" width="1" height="26" fill="#000"/>
<rect x="852" y="131" width="3" height="17" fill="#000"/>
<rect x="853" y="132" width="1" height="15" fill="#1fbe1f"/>
<rect x="857" y="126" width="1" height="10" fill="#000"/>
<rect x="856" y="130" width="3" height="1" fill="#000"/>
<rect x="861" y="122" width="1" height="14" fill="#000"/>
<rect x="860" y="124" width="3" height="10" fill="#000"/>
<rect x="861" y="125" width="1" height="8" fill="#1fbe1f"/>
<rect x="865" y="100" width="1" height="25" fill="#000"/>
<rect x="864" y="106" width="3" height="18" fill="#000"/>
<rect x="865" y="107" width="1" height="16" fill="#1fbe1f"/>
<rect x="869" y="102" width="1" height="19" fill="#000"/>
<rect x="868" y="106" width="3" height="1" fill="#000"/>
<rect x="873" y="104" width="1" height="20" fill="#000"/>
<rect x="872" y="108" width="3" height="11" fill="#000"/>
<rect x="873" y="109" width="1" height="9" fill="#ff0a82"/>
<rect x="877" y="72" width="1" height="47" fill="#000"/>
<rect x="876" y="78" width="3" height="41" fill="#000"/>
<rect x="877" y="79" width="1" height="39" fill="#1fbe1f"/>
<rect x="881" y="66" width="1" height="16" fill="#000"/>
<rect x="880" y="68" width="3" height="10" fill="#000"/>
<rect x="881" y="69" width="1" height="8" fill="#1fbe1f"/>
<rect x="885" y="58" width="1" height="12" fill="#000"/>
<rect x="884" y="61" width="3" height="8" fill="#000"/>
<rect x="885" y="62" width="1" height="6" fill="#1fbe1f"/>
<rect x="889" y="52" width="1" height="11" fill="#000"/>
<rect x="888" y="56" width="3" height="4" fill="#000"/>
<rect x="889" y="57" width="1" height="2" fill="#1fbe1f"/>
<rect x="893" y="36" width="1" height="24" fill="#000"/>
<rect x="892" y="52" width="3" height="3" fill="#000"/>
<rect x="893" y="53" width="1" height="1" fill="#1fbe1f"/>
<rect x="897" y="43" width="1" height="26" fill="#000"/>
<rect x="896" y="51" width="3" height="1" fill="#000"/>
<rect x="901" y="41" width="1" height="33" fill="#000"/>
<rect x="900" y="46" width="3" height="6" fill="#000"/>
<rect x="901" y="47" width="1" height="4" fill="#1fbe1f"/>
<rect x="905" y="36" width="1" height="12" fill="#000"/>
<rect x="904" y="42" width="3" height="4" fill="#000"/>
<rect x="905" y="43" width="1" height="2" fill="#1fbe1f"/>
<rect x="909" y="39" width="1" height="7" fill="#000"/>
<rect x="908" y="41" width="3" height="1" fill="#000"/>
<rect x="913" y="36" width="1" height="16" fill="#000"/>
<rect x="912" y="42" width="3" height="6" fill="#000"/>
<rect x="913" y="43" width="1" height="4" fill="#ff0a82"/>
<rect x="917" y="43" width="1" height="17" fill="#000"/>
<rect x="916" y="48" width="3" height="10" fill="#000"/>
<rect x="917" y="49" width="1" height="8" fill="#ff0a82"/>
<rect x="921" y="51" width="1" height="21" fill="#000"/>
<rect x="920" y="58" width="3" height="11" fill="#000"/>
<rect x="921" y="59" width="1" height="9" fill="#ff0a82"/>
<rect x="925" y="68" width="1" height="84" fill="#000"/>
<rect x="924" y="69" width="3" height="66" fill="#000"/>
<rect x="925" y="70" width="1" height="64" fill="#ff0a82"/>
<rect x="929" y="123" width="1" height="15" fill="#000"/>
<rect x="928" y="128" width="3" height="7" fill="#000"/>
<rect x="929" y="129" width="1" height="5" fill="#1fbe1f"/>
<rect x="933" y="120" width="1" height="6" fill="#000"/>
<rect x="932" y="125" width="3" height="1" fill="#000"/>
<rect x="937" y="110" width="1" height="17" fill="#000"/>
<rect x="936" y="111" width="3" height="15" fill="#000"/>
<rect x="937" y="112" width="1" height="13" fill="#1fbe1f"/>
<rect x="941" y="101" width="1" height="21" fill="#000"/>
<rect x="940" y="109" width="3" height="3" fill="#000"/>
<rect x="941" y="110" width="1" height="1" fill="#1fbe1f"/>
<rect x="945" y="96" width="1" height="30" fill="#000"/>
<rect x="944" y="108" width="3" height="1" fill="#000"/>
<rect x="949" y="91" width="1" height="45" fill="#000"/>
<rect x="948" y="108" width="3" height="22" fill="#000"/>
<rect x="949" y="109" width="1" height="20" fill="#ff0a82"/>
<rect x="953" y="128" width="1" height="20" fill="#000"/>
<rect x="952" y="130" width="3" height="14" fill="#000"/>
<rect x="953" y="131" width="1" height="12" fill="#ff0a82"/>
<rect x="957" y="133" width="1" height="19" fill="#000"/>
<rect x="956" y="136" width="3" height="16" fill="#000"/>
<rect x="957" y="137" width="1" height="14" fill="#1fbe1f"/>
<rect x="961" y="128" width="1" height="14" fill="#000"/>
<rect x="960" y="133" width="3" height="3" fill="#000"/>
<rect x="961" y="134" width="1" height="1" fill="#1fbe1f"/>
<rect x="965" y="126" width="1" height="25" fill="#000"/>
<rect x="964" y="130" width="3" height="3" fill="#000"/>
<rect x="965" y="131" width="1" height="1" fill="#1fbe1f"/>
<rect x="969" y="122" width="1" height="21" fill="#000"/>
<rect x="968" y="122" width="3" height="8" fill="#000"/>
<rect x="969" y="123" width="1" height="6" fill="#1fbe1f"/>
<rect x="973" y="120" width="1" height="33" fill="#000"/>
<rect x="972" y="122" width="3" height="18" fill="#000"/>
<rect x="973" y="123" width="1" height="16" fill="#ff0a82"/>
<rect x="977" y="138" width="1" height="7" fill="#000"/>
<rect x="976" y="139" width="3" height="5" fill="#000"/>
<rect x="977" y="140" width="1" height="3" fill="#ff0a82"/>
<rect x="981" y="141" width="1" height="7" fill="#000"/>
<rect x="980" y="142" width="3" height="5" fill="#000"/>
<rect x="981" y="143" width="1" height="3" fill="#ff0a82"/>
<rect x="985" y="142" width="1" height="25" fill="#000"/>
<rect x="984" y="148" width="3" height="3" fill="#000"/>
<rect x="985" y="149" width="1" height="1" fill="#ff0a82"/>
<rect x="989" y="126" width="1" height="26" fill="#000"/>
<rect x="988" y="136" width="3" height="15" fill="#000"/>
<rect x="989" y="137" width="1" height="13" fill="#1fbe1f"/>
<rect x="993" y="122" width="1" height="23" fill="#000"/>
<rect x="992" y="128" width="3" height="8" fill="#000"/>
<rect x="993" y="129" width="1" height="6" fill="#1fbe1f"/>
<rect x="997" y="116" width="1" height="32" fill="#000"/>
<rect x="996" y="128" width="3" height="4" fill="#000"/>
<rect x="997" y="129" width="1" height="2" fill="#ff0a82"/>
<rect x="1001" y="127" width="1" height="10" fill="#000"/>
<rect x="1000" y="128" width="3" height="4" fill="#000"/>
<rect x="1001" y="129" width="1" height="2" fill="#1fbe1f"/>
<rect x="1005" y="116" width="1" height="34" fill="#000"/>
<rect x="1004" y="122" width="3" height="8" fill="#000"/>
<rect x="1005" y="123" width="1" height="6" fill="#1fbe1f"/>
<rect x="1009" y="119" width="1" height="36" fill="#000"/>
<rect x="1008" y="122" width="3" height="16" fill="#000"/>
<rect x="1009" y="123" width="1" height="14" fill="#ff0a82"/>
<rect x="1013" y="137" width="1" height="75" fill="#000"/>
<rect x="1012" y="138" width="3" height="30" fill="#000"/>
<rect x="1013" y="139" width="1" height="28" fill="#ff0a82"/>
<rect x="1017" y="162" width="1" height="136" fill="#000"/>
<rect x="1016" y="168" width="3" height="120" fill="#000"/>
<rect x="1017" y="169" width="1" height="118" fill="#ff0a82"/>
<rect x="1021" y="260" width="1" height="52" fill="#000"/>
<rect x="1020" y="288" width="3" height="3" fill="#000"/>
<rect x="1021" y="289" width="1" height="1" fill="#ff0a82"/>
<rect x="1025" y="277" width="1" height="22" fill="#000"/>
<rect x="1024" y="290" width="3" height="8" fill="#000"/>
<rect x="1025" y="291" width="1" height="6" fill="#ff0a82"/>
<rect x="1029" y="288" width="1" height="42" fill="#000"/>
<rect x="1028" y="292" width="3" height="26" fill="#000"/>
<rect x="1029" y="293" width="1" height="24" fill="#ff0a82"/>
<rect x="1033" y="294" width="1" height="24" fill="#000"/>
<rect x="1032" y="298" width="3" height="20" fill="#000"/>
<rect x="1033" y="299" width="1" height="18" fill="#1fbe1f"/>
<rect x="1037" y="281" width="1" height="30" fill="#000"/>
<rect x="1036" y="293" width="3" height="6" fill="#000"/>
<rect x="1037" y="294" width="1" height="4" fill="#1fbe1f"/>
<rect x="1041" y="246" width="1" height="51" fill="#000"/>
<rect x="1040" y="247" width="3" height="46" fill="#000"/>
<rect x="1041" y="248" width="1" height="44" fill="#1fbe1f"/>
<rect x="1045" y="215" width="1" height="36" fill="#000"/>
<rect x="1044" y="218" width="3" height="30" fill="#000"/>
<rect x="1045" y="219" width="1" height="28" fill="#1fbe1f"/>
<rect x="1049" y="195" width="1" height="46" fill="#000"/>
<rect x="1048" y="203" width="3" height="15" fill="#000"/>
<rect x="1049" y="204" width="1" height="13" fill="#1fbe1f"/>
<rect x="1053" y="195" width="1" height="23" fill="#000"/>
<rect x="1052" y="208" width="3" height="9" fill="#000"/>
<rect x="1053" y="209" width="1" height="7" fill="#ff0a82"/>
<rect x="1057" y="214" width="1" height="12" fill="#000"/>
<rect x="1056" y="216" width="3" height="3" fill="#000"/>
<rect x="1057" y="217" width="1" height="1" fill="#ff0a82"/>
</g>
<path d="M517.5,66.5 H698 A11,11 0 0 1 709,77.5 V127.5 A11,11 0 0 1 698,138.5 H620.5 L680,174 L595.5,138.5 H517.5 A11,11 0 0 1 506.5,127.5 V77.5 A11,11 0 0 1 517.5,66.5 Z" fill="#6d9ef6" stroke="#2f6bea" stroke-width="1"/>
<text x="521.8" y="97.6" font-size="19.6" fill="#fff" stroke="#fff" stroke-width="0.75" textLength="142.2" lengthAdjust="spacingAndGlyphs">Broken support</text>
<text x="522.4" y="118.7" font-size="19.6" fill="#fff" stroke="#fff" stroke-width="0.75" textLength="170.6" lengthAdjust="spacingAndGlyphs">turned resistance?</text>
<g shape-rendering="crispEdges"><rect x="1223" y="6" width="1" height="691" fill="#555"/><rect x="16" y="649" width="1329" height="1" fill="#555"/></g>
<text x="1237.9" y="21.7" font-size="20" fill="#4a4a4a" stroke="#4a4a4a" stroke-width="0.25" textLength="92.6" lengthAdjust="spacingAndGlyphs">2,800.000</text>
<text x="1237.9" y="101.8" font-size="20" fill="#4a4a4a" stroke="#4a4a4a" stroke-width="0.25" textLength="92.6" lengthAdjust="spacingAndGlyphs">2,760.000</text>
<text x="1237.9" y="181.9" font-size="20" fill="#4a4a4a" stroke="#4a4a4a" stroke-width="0.25" textLength="92.6" lengthAdjust="spacingAndGlyphs">2,720.000</text>
<text x="1237.9" y="262.0" font-size="20" fill="#4a4a4a" stroke="#4a4a4a" stroke-width="0.25" textLength="92.6" lengthAdjust="spacingAndGlyphs">2,680.000</text>
<text x="1237.9" y="342.2" font-size="20" fill="#4a4a4a" stroke="#4a4a4a" stroke-width="0.25" textLength="92.6" lengthAdjust="spacingAndGlyphs">2,640.000</text>
<text x="1237.9" y="422.3" font-size="20" fill="#4a4a4a" stroke="#4a4a4a" stroke-width="0.25" textLength="92.6" lengthAdjust="spacingAndGlyphs">2,600.000</text>
<text x="1237.9" y="502.4" font-size="20" fill="#4a4a4a" stroke="#4a4a4a" stroke-width="0.25" textLength="92.6" lengthAdjust="spacingAndGlyphs">2,560.000</text>
<text x="1237.9" y="582.5" font-size="20" fill="#4a4a4a" stroke="#4a4a4a" stroke-width="0.25" textLength="92.6" lengthAdjust="spacingAndGlyphs">2,520.000</text>
<path d="M1224,203 H1336 A3,3 0 0 1 1339,206 V231 A3,3 0 0 1 1336,234 H1224 Z" fill="#ff007f"/>
<text x="1237.6" y="224.3" font-size="20" fill="#fff" stroke="#fff" stroke-width="0.9" textLength="92.8" lengthAdjust="spacingAndGlyphs">2,698.865</text>
<text x="122.5" y="679.7" font-size="20" fill="#4a4a4a" text-anchor="middle" stroke="#4a4a4a" stroke-width="0.25">16</text>
<text x="387" y="679.7" font-size="20" fill="#4a4a4a" text-anchor="middle" stroke="#4a4a4a" stroke-width="0.7">Oct</text>
<text x="604" y="679.7" font-size="20" fill="#4a4a4a" text-anchor="middle" stroke="#4a4a4a" stroke-width="0.25">14</text>
<text x="748" y="679.7" font-size="20" fill="#4a4a4a" text-anchor="middle" stroke="#4a4a4a" stroke-width="0.25">22</text>
<text x="941" y="679.7" font-size="20" fill="#4a4a4a" text-anchor="middle" stroke="#4a4a4a" stroke-width="0.7">Nov</text>
<text x="1085" y="679.7" font-size="20" fill="#4a4a4a" text-anchor="middle" stroke="#4a4a4a" stroke-width="0.25">11</text>
<text x="21.2" y="35.6" font-size="22.6" fill="#111" textLength="259" lengthAdjust="spacingAndGlyphs">Gold (XAU/USD): 4-hour</text>
<g fill="#131722"><path d="M14.9,715.1 H27.1 V729.8 H20.9 V721 H14.9 Z"/><circle cx="31.7" cy="718.3" r="2.7"/><path d="M36.8,715.1 H44.3 L39.2,729.8 H31.8 Z"/></g>
<text x="49.6" y="730.4" font-size="18.4" fill="#131722" stroke="#131722" stroke-width="0.3" textLength="105.6" lengthAdjust="spacingAndGlyphs">TradingView</text>
</svg>
</body></html>
